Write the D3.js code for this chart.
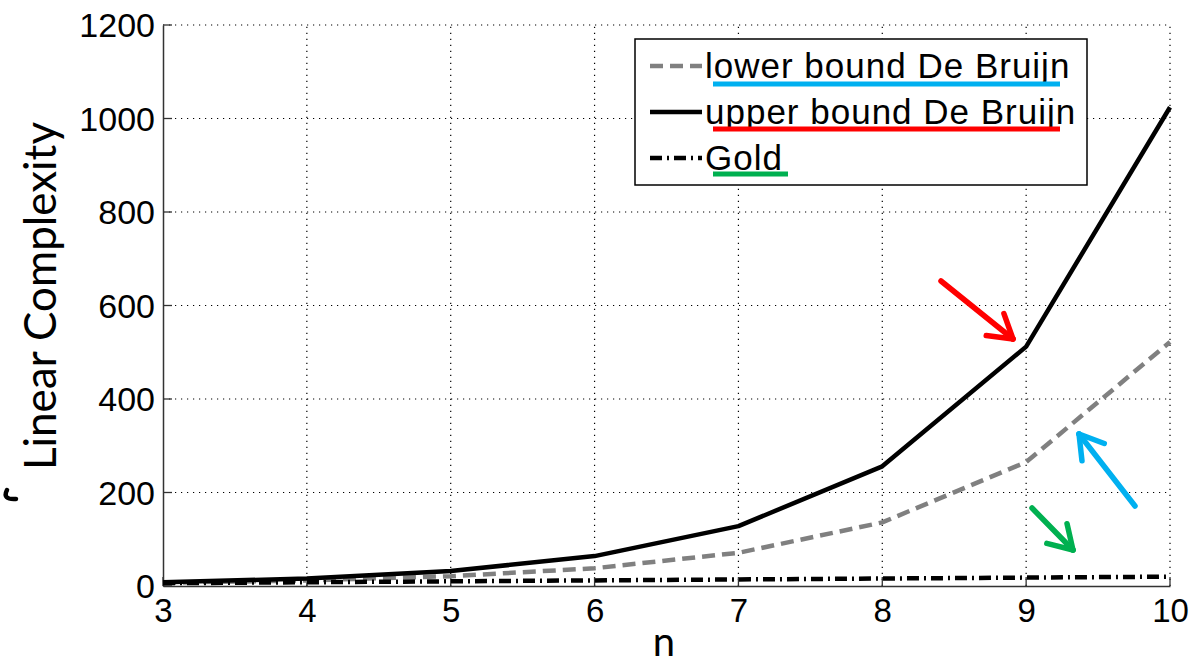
<!DOCTYPE html>
<html>
<head>
<meta charset="utf-8">
<script src="https://cdn.jsdelivr.net/npm/d3@7"></script>
<style>
  html, body { margin: 0; padding: 0; background: #fff; }
  svg { display: block; }
</style>
</head>
<body>
<svg id="chart" width="1203" height="664"></svg>
<script>
// ---- data ----
const nValues = [3, 4, 5, 6, 7, 8, 9, 10];
const lowerBound = [7, 12, 21, 38, 71, 136, 265, 522];
const upperBound = [8, 16, 32, 64, 128, 256, 512, 1024];
const gold = [6, 8, 10, 12, 14, 16, 18, 20];
const xTicks = [3, 4, 5, 6, 7, 8, 9, 10];
const yTicks = [0, 200, 400, 600, 800, 1000, 1200];
const seriesNames = ["lower bound De Bruijn", "upper bound De Bruijn", "Gold"];
const underlineColors = ["#00b0f0", "#ff0000", "#00b050"];

const svg = d3.select("#chart");
const pLeft = 163, pRight = 1170, pTop = 25, pBottom = 586;
const x = d3.scaleLinear().domain([3, 10]).range([pLeft, pRight]);
const y = d3.scaleLinear().domain([0, 1200]).range([pBottom, pTop]);

const tickFont = "'Liberation Sans', Arial, sans-serif";
const labelFont = "Lato, 'Open Sans', sans-serif";

// grid (dotted)
const grid = svg.append("g");
xTicks.forEach(t => {
  if (t === 3) return;
  grid.append("line").attr("x1", x(t)).attr("x2", x(t)).attr("y1", y(0)).attr("y2", y(1200))
    .attr("stroke", "#000").attr("stroke-width", 1.2).attr("stroke-dasharray", "1.2,4.8");
});
yTicks.forEach(t => {
  if (t === 0) return;
  grid.append("line").attr("x1", x(3)).attr("x2", x(10)).attr("y1", y(t)).attr("y2", y(t))
    .attr("stroke", "#000").attr("stroke-width", 1.2).attr("stroke-dasharray", "1.2,4.8");
});

// axes
const yAxis = d3.axisLeft(y).tickValues(yTicks).tickFormat(d3.format("d")).tickSize(0).tickPadding(8);
const gy = svg.append("g").attr("transform", `translate(${pLeft},0)`).call(yAxis);
gy.select(".domain").attr("stroke", "#333").attr("stroke-width", 1.5);
gy.selectAll("text").attr("font-family", tickFont).attr("font-size", 34).attr("fill", "#000").attr("dy", "0.34em");
yTicks.forEach(t => svg.append("line").attr("x1", pLeft).attr("x2", pLeft + 9).attr("y1", y(t)).attr("y2", y(t)).attr("stroke", "#333").attr("stroke-width", 1.3));

const xAxis = d3.axisBottom(x).tickValues(xTicks).tickFormat(d3.format("d")).tickSize(0).tickPadding(13);
const gx = svg.append("g").attr("transform", `translate(0,${pBottom})`).call(xAxis);
gx.select(".domain").attr("stroke", "#333").attr("stroke-width", 1.5);
gx.selectAll("text").attr("font-family", tickFont).attr("font-size", 33).attr("fill", "#000");
xTicks.forEach(t => svg.append("line").attr("x1", x(t)).attr("x2", x(t)).attr("y1", pBottom).attr("y2", pBottom - 9).attr("stroke", "#333").attr("stroke-width", 1.3));

// lines
const line = d3.line().x((d, i) => x(nValues[i])).y(d => y(d));
const styles = [
  { data: lowerBound, color: "#808080", dash: "13,7" },
  { data: upperBound, color: "#000", dash: null },
  { data: gold, color: "#000", dash: "12,5,2,5" }
];
styles.forEach(s => {
  svg.append("path").datum(s.data).attr("d", line).attr("fill", "none")
    .attr("stroke", s.color).attr("stroke-width", 4.5)
    .attr("stroke-dasharray", s.dash).attr("stroke-linejoin", "round");
});

// legend
const lg = svg.append("g");
lg.append("rect").attr("x", 635).attr("y", 39).attr("width", 452).attr("height", 146)
  .attr("fill", "#fff").attr("stroke", "#000").attr("stroke-width", 1.5);
const rowY = [66, 112, 158];
styles.forEach((s, i) => {
  lg.append("line").attr("x1", 650).attr("x2", 702).attr("y1", rowY[i]).attr("y2", rowY[i])
    .attr("stroke", s.color).attr("stroke-width", 4.5).attr("stroke-dasharray", s.dash);
  lg.append("text").attr("x", 705).attr("y", rowY[i] + 12).text(seriesNames[i])
    .attr("font-family", tickFont).attr("font-size", 35).attr("letter-spacing", 1).attr("fill", "#000");
});
const ulEnds = [1060, 1060, 788];
const ulY = [84, 129, 174];
underlineColors.forEach((c, i) => {
  lg.append("line").attr("x1", 713).attr("x2", ulEnds[i]).attr("y1", ulY[i]).attr("y2", ulY[i])
    .attr("stroke", c).attr("stroke-width", 5);
});

// axis labels
svg.append("text").attr("transform", "translate(56,296) rotate(-90)").attr("text-anchor", "middle")
  .attr("font-family", labelFont).attr("font-size", 44).attr("fill", "#000").text("Linear Complexity");
svg.append("text").attr("x", 664).attr("y", 656).attr("text-anchor", "middle")
  .attr("font-family", labelFont).attr("font-size", 40).attr("fill", "#000").text("n");

// stray glyph fragment at left
svg.append("path").attr("d", "M7,490 Q2,500 16,499").attr("fill", "none").attr("stroke", "#000").attr("stroke-width", 4.5).attr("stroke-linecap", "round");

// arrows
function arrow(x1, y1, x2, y2, color) {
  const g = svg.append("g");
  g.append("line").attr("x1", x1).attr("y1", y1).attr("x2", x2).attr("y2", y2)
    .attr("stroke", color).attr("stroke-width", 5.5).attr("stroke-linecap", "round");
  const ang = Math.atan2(y2 - y1, x2 - x1);
  const L = 27, spread = 0.55;
  [ang + Math.PI - spread, ang + Math.PI + spread].forEach(a => {
    g.append("line").attr("x1", x2).attr("y1", y2)
      .attr("x2", x2 + L * Math.cos(a)).attr("y2", y2 + L * Math.sin(a))
      .attr("stroke", color).attr("stroke-width", 5.5).attr("stroke-linecap", "round");
  });
}
arrow(941, 281, 1013, 339, "#ff0000");
arrow(1135, 506, 1079, 434, "#00b0f0");
arrow(1032, 508, 1073, 550, "#00b050");
</script>
</body>
</html>
